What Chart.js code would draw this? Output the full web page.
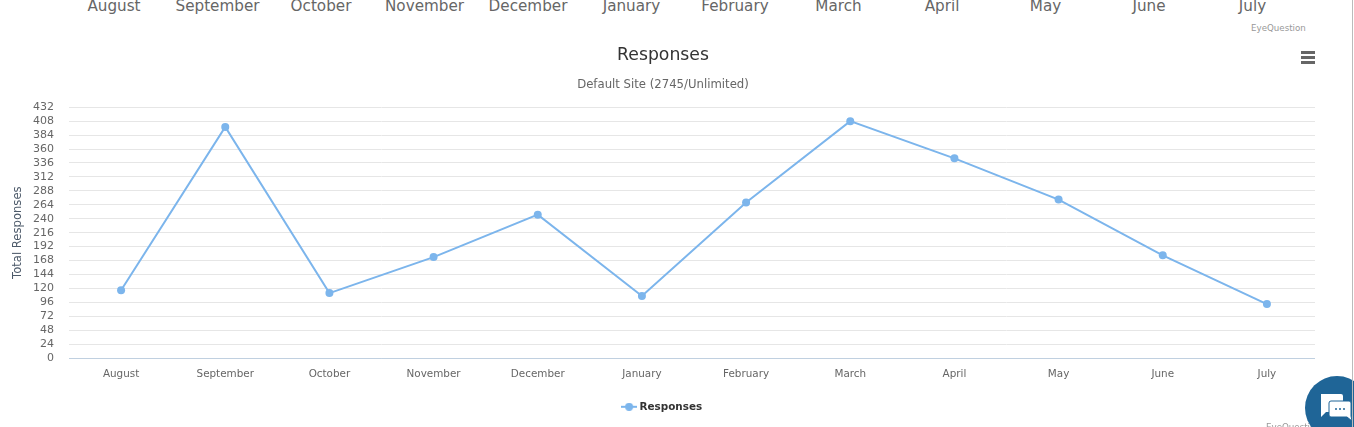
<!DOCTYPE html>
<html>
<head>
<meta charset="utf-8">
<title>Responses</title>
<script src="https://cdn.jsdelivr.net/npm/chart.js@4"></script>
<style>
  html, body { margin: 0; padding: 0; background: #fff; overflow: hidden; height: 427px; }
  body { position: relative; font-family: "DejaVu Sans", sans-serif; }
  #chart-box { position: absolute; left: 0; top: 0; width: 1326px; height: 427px; }
  .old-label { position: absolute; top: -4px; font-size: 15.2px; line-height: 20px; color: #666; transform: translateX(-50%); white-space: nowrap; }
  .credit { position: absolute; font-size: 8.7px; color: #999; white-space: nowrap; }
  #menu { position: absolute; left: 1301px; top: 51px; width: 14px; height: 13px; }
  #menu i { display: block; height: 3px; margin-bottom: 2px; background: #666; }
  #edge { position: absolute; left: 1352px; top: 0; width: 1px; height: 427px; background: #bbb; }
  #chat { position: absolute; left: 1305px; top: 376px; width: 64px; height: 64px; border-radius: 50%; background: #1f6597; }
  #chat svg { position: absolute; left: 14px; top: 17px; }
</style>
</head>
<body>
<div id="old-labels"></div>
<div class="credit" style="left:1251px;top:23px">EyeQuestion</div>
<div id="chart-box"><canvas id="my-chart"></canvas></div>
<div id="menu"><i></i><i></i><i></i></div>
<div class="credit" style="left:1266px;top:422px">EyeQuestion</div>
<div id="chat">
  <svg width="34" height="30" viewBox="0 0 34 30">
    <path d="M2 1h20a2 2 0 0 1 2 2v14a2 2 0 0 1-2 2H7l-5 5z" fill="#fff"/>
    <path d="M12 8h18a2 2 0 0 1 2 2v13l1 5-5-4H12a2 2 0 0 1-2-2V10a2 2 0 0 1 2-2z" fill="#fff" stroke="#1f6597"/>
    <circle cx="17" cy="16" r="1" fill="#1f6597"/><circle cx="21" cy="16" r="1" fill="#1f6597"/><circle cx="25" cy="16" r="1" fill="#1f6597"/>
  </svg>
</div>
<div id="edge"></div>
<script>
const months = ['August', 'September', 'October', 'November', 'December', 'January', 'February', 'March', 'April', 'May', 'June', 'July']
const responses = [117, 398, 112, 174, 247, 107, 268, 408, 344, 273, 177, 93]
const yMax = 432
const yStep = 24
const seriesName = 'Responses'
const blue = '#7cb5ec'
const font = '"DejaVu Sans", sans-serif'

// the previous chart's axis is cut off at the top of the page
months.forEach((m, i) => {
  const s = document.createElement('span')
  s.className = 'old-label'
  s.textContent = m
  s.style.left = (114 + i * 103.5) + 'px'
  document.querySelector('#old-labels').appendChild(s)
})

// legend marker: short line with a dot on it
const marker = document.createElement('canvas')
marker.width = 16
marker.height = 8
const mctx = marker.getContext('2d')
mctx.fillStyle = blue
mctx.fillRect(0, 3, 16, 2)
mctx.beginPath()
mctx.arc(8, 4, 4, 0, Math.PI * 2)
mctx.fill()

// the grid stops a little short of the last category band
const trimGrid = {
  id: 'trimGrid',
  beforeDatasetsDraw(chart) {
    const { ctx, chartArea } = chart
    ctx.save()
    ctx.fillStyle = '#fff'
    ctx.fillRect(chartArea.right - 4, chartArea.top - 2, 6, chartArea.bottom - chartArea.top + 4)
    ctx.restore()
  }
}

new Chart(document.querySelector('#my-chart'), {
  type: 'line',
  data: {
    labels: months,
    datasets: [{
      label: seriesName,
      data: responses,
      borderColor: blue,
      backgroundColor: blue,
      borderWidth: 2,
      pointRadius: 4,
      pointBorderWidth: 0,
      pointHoverRadius: 5,
      tension: 0
    }]
  },
  options: {
    responsive: true,
    maintainAspectRatio: false,
    animation: false,
    layout: { padding: { left: 7, right: 7, top: 0, bottom: 5 } },
    scales: {
      x: {
        offset: true,
        afterFit: (scale) => { scale.height += 7 },
        grid: { display: false },
        border: { color: '#c0d0e0' },
        ticks: { color: '#666', font: { family: font, size: 10.4 }, padding: 2, maxRotation: 0, autoSkip: false }
      },
      y: {
        min: 0,
        max: yMax,
        afterFit: (scale) => { scale.width = 62 },
        grid: { color: (c) => c.tick.value === 0 ? '#c0d0e0' : '#e6e6e6', drawTicks: false },
        border: { display: false },
        title: { display: true, text: 'Total Responses', color: '#4d5a6a', font: { family: font, size: 11.6 }, padding: { top: 4, bottom: 0 } },
        ticks: { stepSize: yStep, color: '#666', font: { family: font, size: 11 }, padding: 15, autoSkip: false }
      }
    },
    plugins: {
      title: { display: true, text: 'Responses', color: '#333', font: { family: font, size: 17.25, weight: 'normal' }, padding: { top: 45, bottom: 12 } },
      subtitle: { display: true, text: 'Default Site (2745/Unlimited)', color: '#666', font: { family: font, size: 11.7, weight: 'normal' }, padding: { top: 0, bottom: 15.5 } },
      legend: {
        position: 'bottom',
        labels: {
          usePointStyle: true,
          pointStyle: marker,
          color: '#333',
          font: { family: font, size: 10.4, weight: 'bold' },
          padding: 12
        }
      },
      tooltip: { enabled: false }
    }
  },
  plugins: [trimGrid]
})
</script>
</body>
</html>
